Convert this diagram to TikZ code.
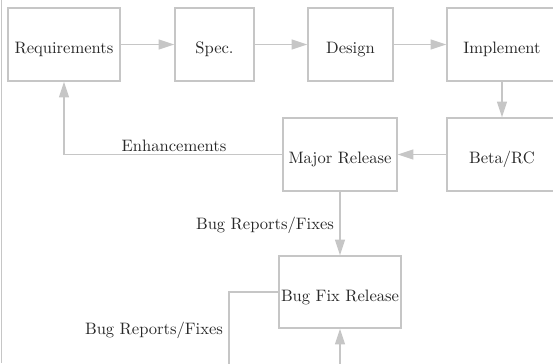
\documentclass[tikz,border=0pt]{standalone}
\usetikzlibrary{arrows.meta}
\definecolor{linegray}{RGB}{198,198,198}
\definecolor{textdark}{RGB}{40,40,40}
\begin{document}
\begin{tikzpicture}[x=0.6042pt,y=-0.6042pt,
  stagebox/.style={draw=linegray,line width=0.8pt,fill=white,text=textdark,inner sep=0pt,text height=10.9pt,text depth=0pt,font=\fontsize{10}{12}\selectfont},
  flow/.style={draw=linegray,line width=0.8pt,-{Triangle[length=9.5pt,width=6pt]}},
  plain/.style={draw=linegray,line width=0.8pt},
  lbl/.style={text=textdark,inner sep=0pt,font=\fontsize{10}{12}\selectfont}]
\useasboundingbox (0,0) rectangle (553,363);
\clip (0,0) rectangle (553,363);
\draw[plain] (1.5,0) -- (1.5,363);
\node[stagebox,minimum width=112*0.6042pt,minimum height=73*0.6042pt] (req) at (64,44.5) {Requirements};
\node[stagebox,minimum width=79*0.6042pt,minimum height=73*0.6042pt] (spec) at (214.5,44.5) {Spec.};
\node[stagebox,minimum width=85*0.6042pt,minimum height=73*0.6042pt] (des) at (350.5,44.5) {Design};
\node[stagebox,minimum width=110*0.6042pt,minimum height=73*0.6042pt] (imp) at (502,44.5) {Implement};
\node[stagebox,minimum width=110*0.6042pt,minimum height=73*0.6042pt] (beta) at (502,154.5) {Beta/RC};
\node[stagebox,minimum width=114*0.6042pt,minimum height=73*0.6042pt] (major) at (340,154.5) {Major Release};
\node[stagebox,minimum width=122*0.6042pt,minimum height=72*0.6042pt] (bugfix) at (340,292) {Bug Fix Release};
\coordinate (loopdown) at (229,370);
\coordinate (loopup) at (340,370);
\draw[flow] (req) -- (spec);
\draw[flow] (spec) -- (des);
\draw[flow] (des) -- (imp);
\draw[flow] (imp) -- (beta);
\draw[flow] (beta) -- (major);
\draw[flow] (major.west) -| (req.south);
\node[lbl] (enh) at (174,146) {Enhancements};
\draw[flow] (major) -- (bugfix);
\node[lbl] (brf1) at (265,225) {Bug Reports/Fixes};
\draw[plain] (bugfix.west) -| (loopdown);
\node[lbl] (brf2) at (154,330) {Bug Reports/Fixes};
\draw[flow] (loopup) -- (bugfix.south);
\end{tikzpicture}
\end{document}
